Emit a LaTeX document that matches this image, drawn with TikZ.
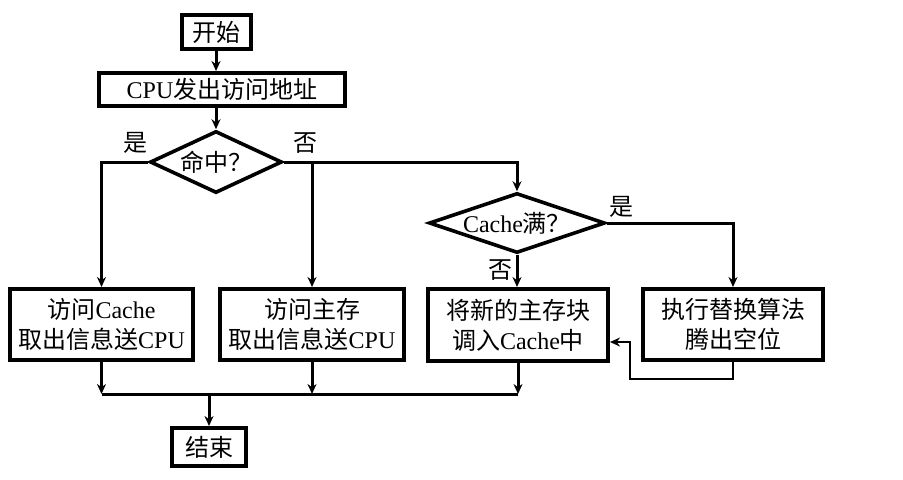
\documentclass[tikz,border=0pt]{standalone}
\usepackage{fontspec}
\setmainfont{Liberation Serif}
\newfontfamily\cjk{Noto Sans CJK SC}
\usetikzlibrary{shapes.geometric, arrows.meta, calc}

\tikzset{
	box/.style={draw, line width=2pt, inner sep=0pt, align=center},
	decision/.style={draw, diamond, line width=1.8pt, inner sep=0pt},
	flow/.style={line width=1.5pt, -{Stealth[length=5pt, width=4.5pt]}},
}

\begin{document}
\begin{tikzpicture}[x=0.5pt, y=-0.5pt, font=\fontsize{12}{15}\selectfont]
		\useasboundingbox (0,0) rectangle (903,479);
	
		\node[box, minimum width=34.5pt, minimum height=17pt] (start) at (216,32) {{\cjk 开始}};
		\node[box, minimum width=123pt, minimum height=16.5pt] (cpu) at (222,89.5) {CPU{\cjk 发出访问地址}};
		\node[decision, minimum width=66pt, minimum height=31pt] (hit) at (216,162) {\makebox[0pt]{\cjk 命中？}};
		\node[decision, minimum width=88pt, minimum height=30pt] (full) at (517,223) {\makebox[0pt]{Cache{\cjk 满？}}};
	
		\node[box, minimum width=91.5pt, minimum height=35.5pt] (readcache) at (101.5,324.5) {{\cjk 访问}Cache\\{\cjk 取出信息送}CPU};
		\node[box, minimum width=92pt, minimum height=35.5pt] (readmem) at (312,324.5) {{\cjk 访问主存}\\{\cjk 取出信息送}CPU};
		\node[box, minimum width=90pt, minimum height=36pt] (load) at (518,325) {{\cjk 将新的主存块}\\{\cjk 调入}Cache{\cjk 中}};
		\node[box, minimum width=90pt, minimum height=35.5pt] (replace) at (733,324.5) {{\cjk 执行替换算法}\\{\cjk 腾出空位}};
		\node[box, minimum width=37pt, minimum height=19pt] (end) at (209,447) {{\cjk 结束}};
	
		\node (hityes) at (135,143) {{\cjk 是}};
		\node (hitno) at (305,143) {{\cjk 否}};
		\node (fullyes) at (621,207) {{\cjk 是}};
		\node (fullno) at (500,270) {{\cjk 否}};
	
		\coordinate (split) at (readmem.north |- hit.east);
		\coordinate (back) at (630,379);
		\coordinate (bus) at (0,394);
	
		\draw[flow] (start.south) -- (start.south |- cpu.north);
		\draw[flow] (cpu.south -| hit.north) -- (hit.north);
		\draw[flow] (hit.west) -| (readcache.north);
		\draw[flow] (hit.east) -| (full.north);
		\draw[flow] (split) -- (readmem.north);
		\draw[flow] (full.south) -- (full.south |- load.north);
		\draw[flow] (full.east) -| (replace.north);
		\draw[line width=1pt, -{Stealth[length=5pt, width=4.5pt]}] (replace.south) |- (back) |- ($ (load.east) + (0,17) $);
	
		\foreach \n in {readcache, readmem, load}
		{
			\draw[flow] (\n.south) -- (\n.south |- bus);
		}
		\draw[line width=1.5pt] (readcache.south |- bus) -- (load.south |- bus);
		\draw[flow] (end.north |- bus) -- (end.north);
	\end{tikzpicture}
\end{document}
